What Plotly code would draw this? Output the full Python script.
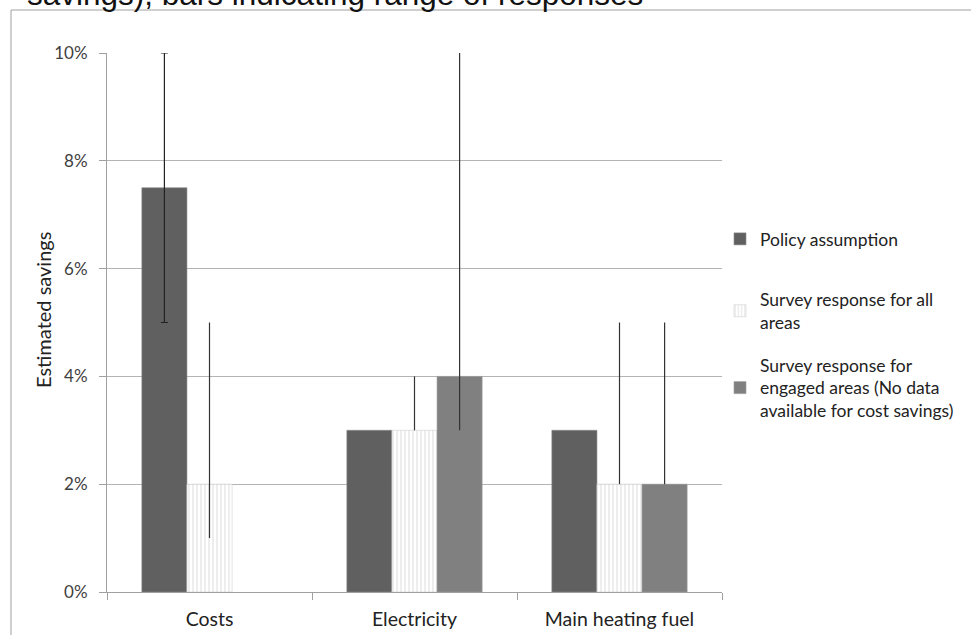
import plotly.graph_objects as go

categories = ["Costs", "Electricity", "Main heating fuel"]
series_names = [
    "Policy assumption",
    "Survey response for all<br>areas",
    "Survey response for<br>engaged areas (No data<br>available for cost savings)",
]
policy = [7.5, 3.0, 3.0]
policy_low = [5.0, None, None]
policy_high = [10.0, None, None]
survey_all = [2.0, 3.0, 2.0]
survey_all_low = [1.0, 3.0, 2.0]
survey_all_high = [5.0, 4.0, 5.0]
survey_engaged = [None, 4.0, 2.0]
survey_engaged_low = [None, 3.0, 2.0]
survey_engaged_high = [None, 10.0, 5.0]
y_ticks = [0, 2, 4, 6, 8, 10]
y_tick_labels = ["0%", "2%", "4%", "6%", "8%", "10%"]


W, H = 971, 635
L, R, T, B = 107, 249, 53, 43
PW, PH = W - L - R, H - T - B


def px(x):
    return (x - L) / PW


def py(y):
    return (H - B - y) / PH


fig = go.Figure()

policy_color = dict(color="#606060", line=dict(color="#8a8a8a", width=0.6))

# policy bars with a range (drawn with capped error bars)
idx_r = [i for i, lo in enumerate(policy_low) if lo is not None]
idx_n = [i for i, lo in enumerate(policy_low) if lo is None]
fig.add_trace(go.Bar(
    x=[categories[i] for i in idx_r], y=[policy[i] for i in idx_r],
    name=series_names[0], legend="legend", legendgroup="p", offsetgroup="p",
    marker=policy_color,
    error_y=dict(type="data", symmetric=False,
                 array=[policy_high[i] - policy[i] for i in idx_r],
                 arrayminus=[policy[i] - policy_low[i] for i in idx_r],
                 color="#222222", thickness=1.2, width=3.5),
))
fig.add_trace(go.Bar(
    x=[categories[i] for i in idx_n], y=[policy[i] for i in idx_n],
    name=series_names[0], legendgroup="p", offsetgroup="p", showlegend=False,
    marker=policy_color,
))


def err(vals, lows, highs):
    plus, minus = [], []
    for v, lo, hi in zip(vals, lows, highs):
        if v is None or lo is None:
            plus.append(0)
            minus.append(0)
        else:
            plus.append(hi - v)
            minus.append(v - lo)
    return plus, minus


a_plus, a_minus = err(survey_all, survey_all_low, survey_all_high)
fig.add_trace(go.Bar(
    x=categories, y=survey_all, name=series_names[1], legend="legend2",
    offsetgroup="a",
    marker=dict(color="white", line=dict(color="#d0d0d0", width=0.6),
                pattern=dict(shape="|", fgcolor="#c4c4c4", bgcolor="white",
                             size=4, solidity=0.3)),
    error_y=dict(type="data", symmetric=False, array=a_plus, arrayminus=a_minus,
                 color="#333333", thickness=1.2, width=0),
))
e_plus, e_minus = err(survey_engaged, survey_engaged_low, survey_engaged_high)
fig.add_trace(go.Bar(
    x=categories, y=survey_engaged, name=series_names[2], legend="legend3",
    offsetgroup="e",
    marker=dict(color="#808080", line=dict(color="#9a9a9a", width=0.6)),
    error_y=dict(type="data", symmetric=False, array=e_plus, arrayminus=e_minus,
                 color="#333333", thickness=1.2, width=0),
))

font_fam = "Lato, 'Open Sans', sans-serif"
leg_font = dict(family=font_fam, size=17.5, color="#222222")


def leg(ycenter):
    return dict(x=px(720), y=py(ycenter), xanchor="left", yanchor="middle",
                font=leg_font, itemwidth=30, bgcolor="rgba(0,0,0,0)",
                borderwidth=0)


fig.update_layout(
    width=W, height=H,
    margin=dict(l=L, r=R, t=T, b=B, autoexpand=False),
    paper_bgcolor="white", plot_bgcolor="white",
    barmode="group", bargap=0.34, bargroupgap=0,
    showlegend=True,
    legend=leg(239),
    legend2=leg(311),
    legend3=leg(388),
    font=dict(family=font_fam, size=18, color="#404040"),
)
fig.update_xaxes(
    showline=True, linecolor="#a0a0a0", linewidth=1,
    showgrid=False, ticks="outside", ticklen=7, tickcolor="#a0a0a0",
    tickson="boundaries", tickfont=dict(size=19.5, color="#222222"),
    ticklabelstandoff=10,
    range=[-0.5, 2.5], fixedrange=True,
)
fig.update_yaxes(
    range=[0, 10], tickvals=y_ticks, ticktext=y_tick_labels,
    showgrid=True, gridcolor="#b4b4b4", gridwidth=1.3,
    showline=True, linecolor="#a0a0a0", linewidth=1,
    ticks="outside", ticklen=7, tickcolor="#a0a0a0",
    ticklabelstandoff=8,
    tickfont=dict(size=17, color="#404040"), zeroline=False,
)

fig.add_annotation(
    text="Estimated savings", textangle=-90, showarrow=False,
    xref="paper", yref="paper", x=px(43), y=py(310),
    xanchor="center", yanchor="middle",
    font=dict(family=font_fam, size=20, color="#222222"),
)
fig.add_annotation(
    text="savings), bars indicating range of responses", showarrow=False,
    xref="paper", yref="paper", x=px(25), y=py(14.5),
    xanchor="left", yanchor="bottom",
    font=dict(family="Liberation Sans, Arial, sans-serif", size=31.5, color="#111111"),
)
fig.add_shape(
    type="rect", xref="paper", yref="paper",
    x0=px(11), x1=px(990), y0=py(700), y1=py(10),
    line=dict(color="#a0a0a0", width=1), fillcolor="rgba(0,0,0,0)", layer="below",
)

fig.write_html("out.html", config={"displayModeBar": False},
               post_script="document.body.style.margin='0px';")
